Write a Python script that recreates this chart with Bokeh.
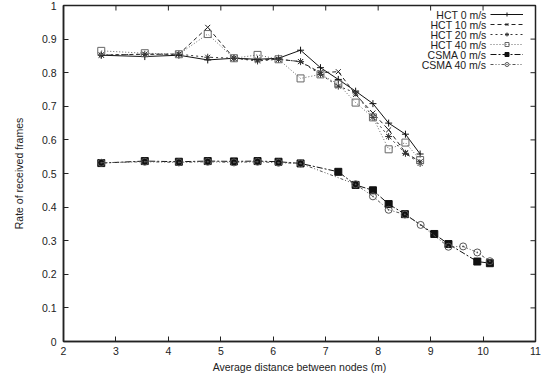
import math
from bokeh.plotting import figure
from bokeh.models import FixedTicker, Legend, LegendItem, Range1d, Label
from bokeh.core.properties import value
from bokeh.embed import file_html
from bokeh.resources import INLINE

# ---- data ----
hct_x = [2.72, 3.55, 4.2, 4.75, 5.25, 5.7, 6.1, 6.52, 6.9, 7.24, 7.57, 7.9, 8.2, 8.52, 8.8]
hct_0 = [0.852, 0.848, 0.852, 0.838, 0.843, 0.840, 0.843, 0.867, 0.815, 0.780, 0.745, 0.708, 0.650, 0.617, 0.558]
hct_10 = [0.852, 0.855, 0.855, 0.935, 0.843, 0.838, 0.840, 0.833, 0.800, 0.803, 0.735, 0.680, 0.630, 0.562, 0.535]
hct_20 = [0.853, 0.855, 0.855, 0.846, 0.843, 0.835, 0.840, 0.833, 0.795, 0.760, 0.740, 0.667, 0.610, 0.560, 0.530]
hct_40 = [0.865, 0.858, 0.855, 0.915, 0.843, 0.853, 0.840, 0.783, 0.795, 0.766, 0.711, 0.667, 0.572, 0.592, 0.540]

csma0_x = [2.72, 3.55, 4.2, 4.75, 5.25, 5.7, 6.1, 6.52, 7.24, 7.57, 7.9, 8.2, 8.51, 9.07, 9.34, 9.89, 10.13]
csma_0 = [0.531, 0.537, 0.535, 0.537, 0.536, 0.537, 0.535, 0.530, 0.505, 0.466, 0.450, 0.409, 0.379, 0.320, 0.290, 0.238, 0.233]
csma40_x = [2.72, 3.55, 4.2, 4.75, 5.25, 5.7, 6.1, 6.52, 7.57, 7.9, 8.2, 8.51, 8.81, 9.34, 9.62, 9.89, 10.13]
csma_40 = [0.532, 0.535, 0.533, 0.535, 0.533, 0.535, 0.532, 0.530, 0.468, 0.432, 0.392, 0.378, 0.347, 0.282, 0.283, 0.265, 0.239]

x_ticks = [2, 3, 4, 5, 6, 7, 8, 9, 10, 11]
x_tick_labels = ["2", "3", "4", "5", "6", "7", "8", "9", "10", "11"]
y_ticks = [0, 0.1, 0.2, 0.3, 0.4, 0.5, 0.6, 0.7, 0.8, 0.9, 1.0]
y_tick_labels = ["0", "0.1", "0.2", "0.3", "0.4", "0.5", "0.6", "0.7", "0.8", "0.9", "1"]

series_names = ["HCT 0 m/s", "HCT 10 m/s", "HCT 20 m/s", "HCT 40 m/s", "CSMA 0 m/s", "CSMA 40 m/s"]

FONT = "Liberation Sans"
FS = "10.5px"
TXT = "#222222"
AX = "#222222"

X0, X1 = 2, 11
Y0, Y1 = 0, 1

p = figure(width=553, height=381, output_backend="svg", toolbar_location=None,
           x_range=Range1d(X0, X1), y_range=Range1d(Y0, Y1),
           min_border_left=63, min_border_right=18, min_border_top=5, min_border_bottom=40)
p.background_fill_color = "white"
p.border_fill_color = "white"
p.outline_line_color = AX
p.outline_line_width = 1.5
p.xgrid.visible = False
p.ygrid.visible = False

for ax, ticks, labels in ((p.xaxis[0], x_ticks, x_tick_labels), (p.yaxis[0], y_ticks, y_tick_labels)):
    ax.ticker = FixedTicker(ticks=ticks)
    ax.major_label_overrides = {t: l for t, l in zip(ticks, labels)}
    ax.major_tick_in = 5
    ax.major_tick_out = 0
    ax.minor_tick_line_color = None
    ax.major_tick_line_color = AX
    ax.axis_line_color = AX
    ax.axis_line_width = 1.5
    ax.major_label_text_font = FONT
    ax.major_label_text_color = TXT
    ax.major_label_text_font_size = FS
    ax.axis_label_text_font = FONT
    ax.axis_label_text_color = TXT
    ax.axis_label_text_font_style = "normal"
    ax.axis_label_text_font_size = FS

p.xaxis[0].axis_label = "Average distance between nodes (m)"
p.yaxis[0].axis_label = "Rate of received frames"
p.xaxis[0].major_label_standoff = 5
p.xaxis[0].axis_label_standoff = 3
p.yaxis[0].major_label_standoff = 7
p.yaxis[0].axis_label_standoff = 14

# mirrored ticks on the top and right edges (gnuplot style)
p.ray(x=x_ticks, y=[Y1] * len(x_ticks), length=5, length_units="screen",
      angle=-math.pi / 2, line_color=AX, line_width=1)
p.ray(x=[X1] * len(y_ticks), y=y_ticks, length=5, length_units="screen",
      angle=math.pi, line_color=AX, line_width=1)

specs = [
    (hct_x, hct_0, "#111111", "solid", "cross", False),
    (hct_x, hct_10, "#222222", "4 3", "x", False),
    (hct_x, hct_20, "#333333", "2 3", "asterisk", False),
    (hct_x, hct_40, "#666666", "1 2", "square", False),
    (csma0_x, csma_0, "#111111", "6 2 2 2", "square", True),
    (csma40_x, csma_40, "#555555", "3 2 1 2 1 2", "circle_dot", False),
]

items = []
for (xs, ys, col, dash, mk, filled), name in zip(specs, series_names):
    ln = p.line(xs, ys, line_color=col, line_width=1, line_dash=dash)
    sc = p.scatter(xs, ys, marker=mk, size=7, line_color=col, line_width=1,
                   fill_color=col if filled else None)
    items.append(LegendItem(label=value(""), renderers=[ln, sc]))

# gnuplot-style key: text on the left, sample on the right
ROW = 10
KEY_TOP = 9
SAMPLE_LEFT = 490
FRAME_LEFT, FRAME_BOTTOM = 63, 341
legend = Legend(items=items, location=(SAMPLE_LEFT - FRAME_LEFT, FRAME_BOTTOM - KEY_TOP - ROW * len(items)),
                border_line_color=None, background_fill_alpha=0,
                glyph_width=33, glyph_height=ROW, label_height=ROW, label_width=0,
                spacing=0, padding=0, margin=0, label_standoff=0,
                label_text_font_size=FS)
p.add_layout(legend, "center")

for i, name in enumerate(series_names):
    p.add_layout(Label(x=SAMPLE_LEFT - 4, y=KEY_TOP + ROW * (i + 0.5), x_units="canvas", y_units="canvas",
                       text=name, text_align="right", text_baseline="middle",
                       text_font=FONT, text_font_size=FS, text_color=TXT))

open("out.html", "w").write(file_html(p, INLINE))
